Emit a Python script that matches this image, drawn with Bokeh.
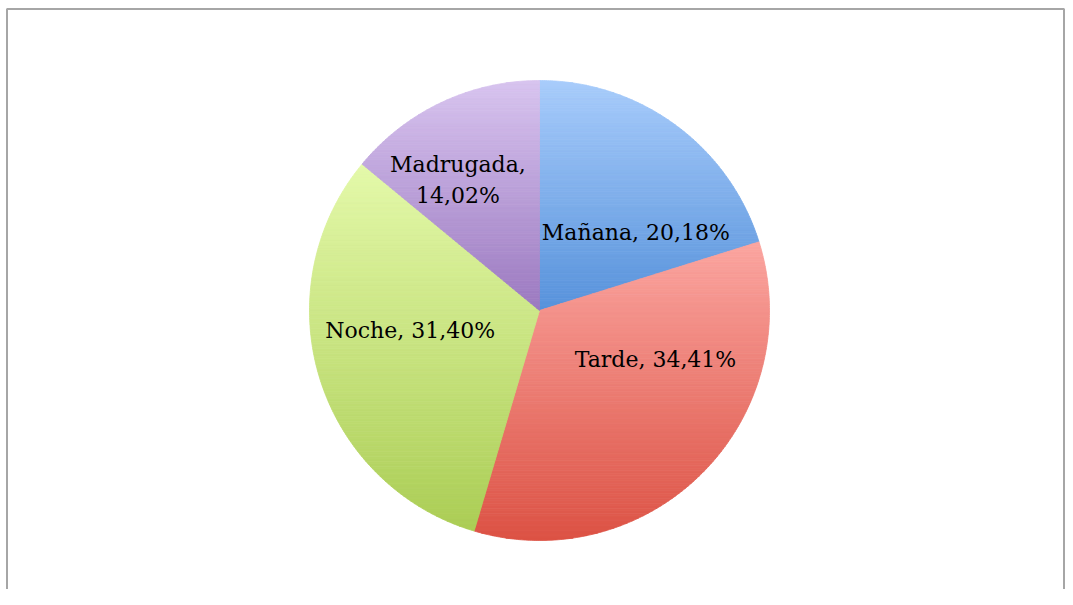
import numpy as np
from bokeh.plotting import figure
from bokeh.models import Range1d, BoxAnnotation
from bokeh.core.properties import value
from bokeh.embed import file_html
from bokeh.resources import INLINE

# ---- data ----
categories = ["Mañana", "Tarde", "Noche", "Madrugada"]
percents = [20.18, 34.41, 31.40, 14.02]
label_texts = ["Mañana, 20,18%", "Tarde, 34,41%", "Noche, 31,40%", "Madrugada,\n14,02%"]

# ---- style ----
top_colors = ["#a8ccfb", "#fba5a0", "#e4f9aa", "#d8c4ef"]
bottom_colors = ["#5792db", "#dc5244", "#abcd55", "#9b79c0"]
# label placement (polar: degrees, px from centre)
label_layout = [(39, 124), (-23, 126), (-171, 131), (122, 154)]

W, H = 1065, 589
CX, CY, R = 539, H - 310, 230

p = figure(width=W, height=H, output_backend="svg", toolbar_location=None,
           x_axis_type=None, y_axis_type=None, min_border=0,
           x_range=Range1d(0, W), y_range=Range1d(0, H))
p.grid.visible = False
p.outline_line_color = None
p.background_fill_color = "white"
p.border_fill_color = "white"


def hex2rgb(h):
    h = h.lstrip("#")
    return np.array([int(h[i:i + 2], 16) for i in (0, 2, 4)], float)


def rgb2hex(c):
    return "#%02x%02x%02x" % tuple(int(round(v)) for v in c)


def clip(poly, yv, keep_above):
    out = []
    n = len(poly)
    for i in range(n):
        a = poly[i]
        b = poly[(i + 1) % n]
        ina = a[1] >= yv if keep_above else a[1] <= yv
        inb = b[1] >= yv if keep_above else b[1] <= yv
        if ina:
            out.append(a)
        if ina != inb:
            t = (yv - a[1]) / (b[1] - a[1])
            out.append((a[0] + t * (b[0] - a[0]), yv))
    return out


total = sum(percents)
fracs = np.array(percents) / total
cum = np.concatenate([[0], np.cumsum(fracs)])

xs_all, ys_all, cols_all = [], [], []
for i in range(len(categories)):
    a0 = np.pi / 2 - 2 * np.pi * cum[i]
    a1 = np.pi / 2 - 2 * np.pi * cum[i + 1]
    n = max(8, int(abs(a1 - a0) / np.radians(0.5)))
    angs = np.linspace(a0, a1, n)
    poly = [(CX, CY)] + [(CX + R * np.cos(a), CY + R * np.sin(a)) for a in angs]
    ymin = min(q[1] for q in poly)
    ymax = max(q[1] for q in poly)
    nb = int((ymax - ymin) / 2.5) + 1
    edges = np.linspace(ymax, ymin, nb + 1)
    ct, cb = hex2rgb(top_colors[i]), hex2rgb(bottom_colors[i])
    for k in range(nb):
        y_hi, y_lo = edges[k], edges[k + 1]
        pc = clip(poly, y_lo, True)
        if len(pc) < 3:
            continue
        pc = clip(pc, y_hi, False)
        if len(pc) < 3:
            continue
        t = (k + 0.5) / nb
        col = rgb2hex(ct + (cb - ct) * t)
        xs_all.append([q[0] for q in pc])
        ys_all.append([q[1] for q in pc])
        cols_all.append(col)

p.patches(xs_all, ys_all, fill_color=cols_all, line_color=cols_all, line_width=0.8)

lx = [CX + r * np.cos(np.radians(a)) for a, r in label_layout]
ly = [CY + r * np.sin(np.radians(a)) for a, r in label_layout]
p.text(lx, ly, text=label_texts, text_font=value("DejaVu Serif"),
       text_font_size="22px", text_color="black", text_align="center",
       text_baseline="middle", text_line_height=1.25)

# chart frame (bottom edge lies below the visible area)
p.add_layout(BoxAnnotation(left=6.5, right=W - 1.5, top=H - 8.5, bottom=-20,
                           fill_color=None, fill_alpha=0,
                           line_color="#a6a6a6", line_alpha=1.0, line_width=2))

open("out.html", "w").write(file_html(p, INLINE))
